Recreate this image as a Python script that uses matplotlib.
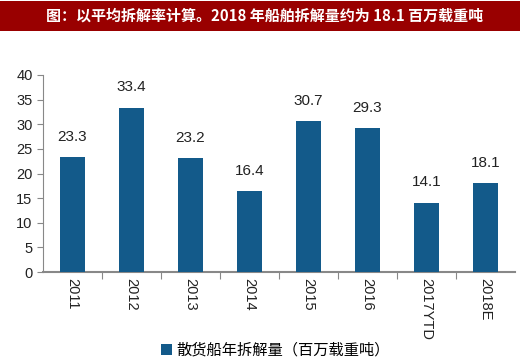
import matplotlib
matplotlib.use("Agg")
import matplotlib.pyplot as plt
from matplotlib.patches import Rectangle

categories = ["2011", "2012", "2013", "2014", "2015", "2016", "2017YTD", "2018E"]
values = [23.3, 33.4, 23.2, 16.4, 30.7, 29.3, 14.1, 18.1]
yticks = [0, 5, 10, 15, 20, 25, 30, 35, 40]
title = "图：以平均拆解率计算。2018 年船舶拆解量约为 18.1 百万载重吨"
legend_label = "散货船年拆解量（百万载重吨）"

plt.rcParams['font.family'] = ['Liberation Sans', 'Noto Sans CJK SC', 'DejaVu Sans']

fig = plt.figure(figsize=(5.2, 3.63), dpi=100)
# title band
fig.patches.append(Rectangle((0, 1 - 31/363), 1, 30/363, transform=fig.transFigure,
                             facecolor="#990000", edgecolor="none", zorder=0))
fig.text(0.508, 1 - 16/363, title, color="white", fontsize=10.8, fontweight="bold",
         ha="center", va="center", family=['Noto Sans CJK SC', 'DejaVu Sans'])

ax = fig.add_axes([43/520, 1 - 272/363, 472/520, 197/363])
bar_color = "#135A8A"
x = list(range(len(categories)))
bars = ax.bar(x, values, width=0.43, color=bar_color, label=legend_label, zorder=3)
for xi, v in zip(x, values):
    ax.annotate(f"{v}", (xi, v), xytext=(0, 14.5), textcoords="offset points",
                ha="center", va="center", fontsize=11, color="#222222")

ax.set_xlim(-0.5, len(categories) - 0.5)
ax.set_ylim(0, 40)
ax.set_yticks(yticks)
ax.tick_params(axis='y', labelsize=10.5, colors="#222222", length=4, color="#888888")
ax.set_xticks([i + 0.5 for i in range(len(categories) - 1)], minor=False)
ax.set_xticklabels([])
ax.tick_params(axis='x', length=5, color="#888888")
ax.set_xticks(x, minor=True)
ax.set_xticklabels(categories, minor=True, rotation=270, fontsize=10.5, color="#222222")
ax.tick_params(axis='x', which='minor', length=0, pad=4)
for s in ['top', 'right']:
    ax.spines[s].set_visible(False)
for s in ['left', 'bottom']:
    ax.spines[s].set_color("#888888")
ax.spines['bottom'].set_linewidth(1.5)

leg = fig.legend(handles=[bars], labels=[legend_label], loc="center",
                 bbox_to_anchor=(0.53, 1 - 350/363), frameon=False,
                 prop={'family': ['Noto Sans CJK SC', 'DejaVu Sans'], 'size': 11},
                 handlelength=0.7, handleheight=0.7, handletextpad=0.3)

fig.savefig("out.png", dpi=100)
